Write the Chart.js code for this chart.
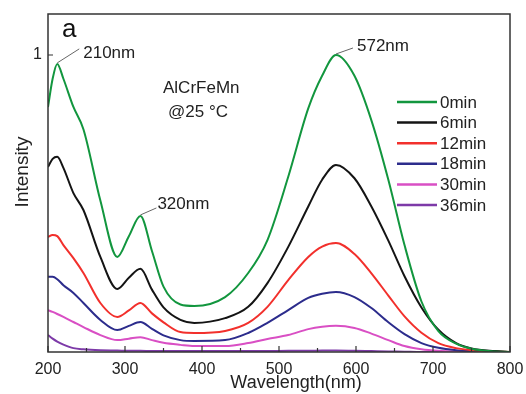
<!DOCTYPE html>
<html>
<head>
<meta charset="utf-8">
<script src="https://cdn.jsdelivr.net/npm/chart.js@4"></script>
<style>
  html, body { margin: 0; padding: 0; background: #fff; }
  #wrap { width: 526px; height: 394px; position: relative; }
</style>
</head>
<body>
<div id="wrap"><canvas id="uv"></canvas></div>
<script>
// wavelength grid (nm) shared by every curve
const wavelengths = [200, 206, 212, 220, 233, 246, 268, 290, 305, 320, 335, 350, 372, 390, 430, 460, 485, 512, 538, 556, 574, 598, 620, 642, 663, 685, 707, 730, 750, 780, 800];

const seriesLabels = ['0min', '6min', '12min', '18min', '30min', '36min'];
const seriesColors = ['#12963e', '#141414', '#f2302c', '#2c2c8c', '#d94fc4', '#7d3aa8'];

const abs0  = [0.825, 0.92, 0.97, 0.92, 0.825, 0.75, 0.51, 0.32, 0.39, 0.458, 0.34, 0.22, 0.16, 0.155, 0.185, 0.266, 0.377, 0.59, 0.82, 0.93, 1.0, 0.93, 0.78, 0.58, 0.36, 0.17, 0.07, 0.028, 0.011, 0.002, 0];
const abs6  = [0.623, 0.65, 0.657, 0.62, 0.535, 0.478, 0.32, 0.212, 0.25, 0.28, 0.21, 0.15, 0.108, 0.098, 0.114, 0.152, 0.232, 0.354, 0.49, 0.58, 0.63, 0.585, 0.49, 0.375, 0.255, 0.15, 0.075, 0.03, 0.012, 0.003, 0];
const abs12 = [0.387, 0.394, 0.39, 0.36, 0.316, 0.266, 0.165, 0.118, 0.14, 0.165, 0.13, 0.10, 0.067, 0.064, 0.071, 0.098, 0.152, 0.242, 0.32, 0.355, 0.367, 0.33, 0.265, 0.19, 0.12, 0.065, 0.03, 0.013, 0.006, 0.002, 0];
const abs18 = [0.253, 0.253, 0.245, 0.225, 0.199, 0.165, 0.108, 0.074, 0.088, 0.101, 0.078, 0.056, 0.04, 0.037, 0.04, 0.064, 0.098, 0.141, 0.182, 0.196, 0.202, 0.185, 0.148, 0.10, 0.06, 0.03, 0.014, 0.006, 0.003, 0.001, 0];
const abs30 = [0.141, 0.135, 0.128, 0.118, 0.101, 0.084, 0.057, 0.04, 0.045, 0.05, 0.04, 0.031, 0.024, 0.02, 0.02, 0.03, 0.044, 0.057, 0.077, 0.085, 0.088, 0.081, 0.062, 0.04, 0.02, 0.009, 0.004, 0.002, 0.001, 0, 0];
const abs36 = [0.057, 0.045, 0.035, 0.025, 0.013, 0.009, 0.006, 0.005, 0.004, 0.004, 0.003, 0.003, 0.003, 0.003, 0.003, 0.003, 0.003, 0.004, 0.004, 0.005, 0.005, 0.004, 0.003, 0.002, 0.001, 0, 0, 0, 0, 0, 0];
const allSeries = [abs0, abs6, abs12, abs18, abs30, abs36];

const xMajorTicks = [200, 300, 400, 500, 600, 700, 800];
const xMinorTicks = [250, 350, 450, 550, 650, 750];
const yTicks = [1];

// peak labels on the 0min curve
const peakLabels = ['210nm', '320nm', '572nm'];
const peakNm = [212, 320, 574];

const panelLetter = 'a';
const sampleLines = ['AlCrFeMn', '@25 °C'];
const xTitle = 'Wavelength(nm)';
const yTitle = 'Intensity';

const FONT = '"Liberation Sans", Arial, sans-serif';

const datasets = allSeries.map((vals, i) => ({
  label: seriesLabels[i],
  data: wavelengths.map((w, k) => ({x: w, y: vals[k]})),
  borderColor: seriesColors[i],
  backgroundColor: seriesColors[i],
  borderWidth: 2,
  pointRadius: 0,
  cubicInterpolationMode: 'monotone',
  fill: false
}));

const decorPlugin = {
  id: 'decor',
  afterDatasetsDraw(chart){
    const ctx = chart.ctx;
    const xs = chart.scales.x, ys = chart.scales.y;
    const a = chart.chartArea;
    ctx.save();
    // frame
    ctx.strokeStyle = '#333';
    ctx.lineWidth = 1.5;
    ctx.strokeRect(a.left, a.top, a.right - a.left, a.bottom - a.top);
    // inward ticks
    ctx.lineWidth = 1.2;
    ctx.beginPath();
    xMajorTicks.forEach(v => { const px = xs.getPixelForValue(v); ctx.moveTo(px, a.bottom); ctx.lineTo(px, a.bottom - 6); });
    xMinorTicks.forEach(v => { const px = xs.getPixelForValue(v); ctx.moveTo(px, a.bottom); ctx.lineTo(px, a.bottom - 4); });
    yTicks.forEach(v => { const py = ys.getPixelForValue(v); ctx.moveTo(a.left, py); ctx.lineTo(a.left + 5, py); });
    ctx.stroke();

    // peak labels with leader lines
    const offs = [[22, -15, 26, -11], [16, -8, 17, -12], [17, -7, 21, -9]];
    ctx.font = '17px ' + FONT;
    ctx.fillStyle = '#222';
    ctx.textBaseline = 'middle';
    ctx.textAlign = 'left';
    peakLabels.forEach((t, i) => {
      const k = wavelengths.indexOf(peakNm[i]);
      const px = xs.getPixelForValue(peakNm[i]);
      const py = ys.getPixelForValue(abs0[k]);
      const o = offs[i];
      ctx.strokeStyle = '#666';
      ctx.lineWidth = 1;
      ctx.beginPath();
      ctx.moveTo(px, py - 1);
      ctx.lineTo(px + o[0], py + o[1]);
      ctx.stroke();
      ctx.fillText(t, px + o[2], py + o[3]);
    });

    // panel letter and sample text
    ctx.font = '26px ' + FONT;
    ctx.fillStyle = '#111';
    ctx.fillText(panelLetter, a.left + 14, a.top + 16);
    ctx.font = '17px ' + FONT;
    ctx.fillStyle = '#222';
    ctx.fillText(sampleLines[0], a.left + 115, a.top + 74);
    ctx.fillText(sampleLines[1], a.left + 120, a.top + 98);

    // legend
    const lx0 = a.left + 349, lx1 = a.left + 389, tx = a.left + 392;
    seriesLabels.forEach((lab, i) => {
      const y = a.top + 88 + i * 20.6;
      ctx.strokeStyle = seriesColors[i];
      ctx.lineWidth = 2.5;
      ctx.beginPath();
      ctx.moveTo(lx0, y);
      ctx.lineTo(lx1, y);
      ctx.stroke();
      ctx.fillStyle = '#222';
      ctx.fillText(lab, tx, y + 1);
    });

    // axis titles (placed off-centre as in the original figure)
    ctx.font = '18px ' + FONT;
    ctx.textAlign = 'center';
    ctx.fillText(xTitle, 296, 383);
    ctx.translate(23, 172);
    ctx.rotate(-Math.PI / 2);
    ctx.font = '19px ' + FONT;
    ctx.fillText(yTitle, 0, 0);
    ctx.restore();
  }
};

new Chart(document.getElementById('uv').getContext('2d'), {
  type: 'line',
  data: { datasets },
  options: {
    responsive: true,
    maintainAspectRatio: false,
    animation: false,
    layout: { padding: { top: 14, right: 16, left: 0, bottom: 0 } },
    plugins: { legend: { display: false }, tooltip: { enabled: false } },
    scales: {
      x: {
        type: 'linear', min: 200, max: 800,
        grid: { display: false, tickLength: 6 },
        border: { display: false },
        afterBuildTicks: s => { s.ticks = xMajorTicks.map(v => ({value: v})); },
        afterFit: s => { s.height = 42; },
        ticks: { padding: 2, color: '#222', font: { family: FONT, size: 16 } }
      },
      y: {
        min: 0, max: 1.138,
        grid: { display: false, tickLength: 6 },
        border: { display: false },
        afterBuildTicks: s => { s.ticks = yTicks.map(v => ({value: v})); },
        afterFit: s => { s.width = 48; },
        ticks: { padding: 0, color: '#222', font: { family: FONT, size: 16 }, callback: v => String(v) }
      }
    }
  },
  plugins: [decorPlugin]
});
</script>
</body>
</html>
